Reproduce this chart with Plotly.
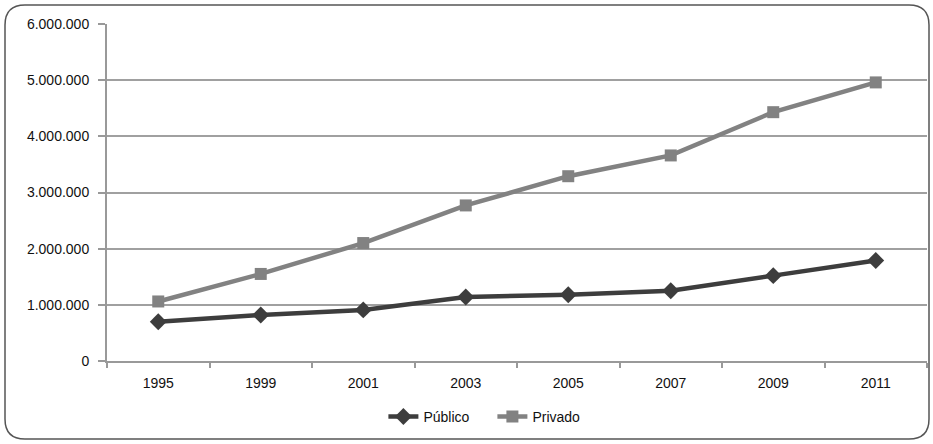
import plotly.graph_objects as go

years = ["1995", "1999", "2001", "2003", "2005", "2007", "2009", "2011"]
publico = [700000, 820000, 910000, 1140000, 1180000, 1250000, 1520000, 1790000]
privado = [1060000, 1550000, 2100000, 2770000, 3290000, 3660000, 4430000, 4960000]
y_tickvals = [0, 1000000, 2000000, 3000000, 4000000, 5000000, 6000000]
y_ticktext = ["0", "1.000.000", "2.000.000", "3.000.000", "4.000.000", "5.000.000", "6.000.000"]

fig = go.Figure()
fig.add_trace(go.Scatter(x=years, y=publico, name="Público", mode="lines+markers",
                         line=dict(color="#3d3d3d", width=4.5),
                         marker=dict(symbol="diamond", size=13, color="#3d3d3d")))
fig.add_trace(go.Scatter(x=years, y=privado, name="Privado", mode="lines+markers",
                         line=dict(color="#828282", width=4.5),
                         marker=dict(symbol="square", size=12, color="#828282")))

L, R, T, B = 107, 6, 24, 83
W, H = 933, 444

# rounded border in pixel offsets from plot-area bottom-left corner
x0, x1 = 5 - L, 929 - L
y0, y1 = (H - B) - 439, (H - B) - 5
r = 20
path = (f"M {x0+r},{y1} L {x1-r},{y1} Q {x1},{y1} {x1},{y1-r} "
        f"L {x1},{y0+r} Q {x1},{y0} {x1-r},{y0} L {x0+r},{y0} "
        f"Q {x0},{y0} {x0},{y0+r} L {x0},{y1-r} Q {x0},{y1} {x0+r},{y1} Z")
fig.add_shape(type="path", xref="paper", yref="paper", xsizemode="pixel", ysizemode="pixel",
              xanchor=0, yanchor=0, path=path, line=dict(color="#555555", width=1.5),
              layer="below")

fig.update_layout(
    width=W, height=H,
    margin=dict(l=L, r=R, t=T, b=B),
    paper_bgcolor="white", plot_bgcolor="white",
    font=dict(family="Liberation Sans, Arial", size=14, color="#111111"),
    showlegend=True,
    legend=dict(orientation="h", x=0.47, xanchor="center", y=-0.166, yanchor="middle",
                font=dict(size=14), itemwidth=30, entrywidth=64, entrywidthmode="pixels"),
    xaxis=dict(type="category", showgrid=False, showline=True, linecolor="#999999", linewidth=2,
               ticks="outside", tickson="boundaries", ticklen=5, tickcolor="#999999", tickwidth=2,
               range=[-0.5, 7.5], ticklabelstandoff=8),
    yaxis=dict(range=[0, 6000000], tickvals=y_tickvals, ticktext=y_ticktext,
               showgrid=True, gridcolor="#a0a0a0", gridwidth=2, zeroline=False,
               showline=True, linecolor="#999999", linewidth=2,
               ticks="outside", ticklen=7, tickcolor="#999999", tickwidth=2,
               ticklabelstandoff=6),
)

fig.write_html("out.html", config={"displayModeBar": False},
               post_script="document.body.style.margin='0';document.body.style.overflow='hidden';")
